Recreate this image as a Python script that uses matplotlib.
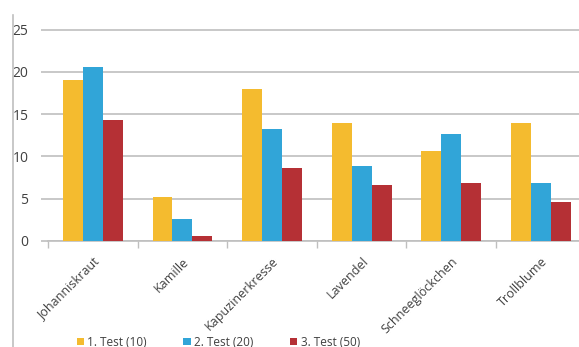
import numpy as np
import matplotlib.pyplot as plt
from matplotlib.lines import Line2D

plt.rcParams['font.family'] = ['Open Sans', 'DejaVu Sans']

kategorien = ['Johanniskraut', 'Kamille', 'Kapuzinerkresse', 'Lavendel',
              'Schneeglöckchen', 'Trollblume']
test1 = [19, 5.2, 18, 14, 10.6, 14]
test2 = [20.6, 2.6, 13.2, 8.9, 12.6, 6.9]
test3 = [14.3, 0.6, 8.6, 6.6, 6.9, 4.6]
serien = ['1. Test (10)', '2. Test (20)', '3. Test (50)']
farben = ['#F4BB2F', '#31A5D8', '#B53035']

fig = plt.figure(figsize=(5.79, 3.47), dpi=100)
ax = fig.add_axes([48/579, 106/347, 537.7/579, 214.0/347])

x = np.arange(len(kategorien))
w = 0.222
for i, (werte, name, f) in enumerate(zip([test1, test2, test3], serien, farben)):
    ax.bar(x + (i - 1)*w, werte, w, color=f, label=name, zorder=3)

ax.set_xlim(-0.5, len(kategorien) - 0.5)
ax.set_ylim(0, 25.3)
ax.set_yticks(np.arange(0, 26, 5))
ax.grid(axis='y', color='#BFBFBF', linewidth=1.2, zorder=0)
for s in ['top', 'right', 'left']:
    ax.spines[s].set_visible(False)
ax.spines['bottom'].set_color('#BFBFBF')
ax.spines['bottom'].set_linewidth(1.2)

ax.set_xticks(x)
ax.set_xticklabels(kategorien, rotation=45, ha='right', rotation_mode='anchor',
                   fontsize=9, color='#404040')
ax.set_xticks(np.arange(-0.5, len(kategorien)), minor=True)
ax.tick_params(axis='x', which='major', length=0, pad=10)
ax.tick_params(axis='x', which='minor', length=5, color='#BFBFBF', width=1)
ax.tick_params(axis='y', length=5, color='#BFBFBF', width=1.2,
               labelsize=10, labelcolor='#404040', pad=9)

fig.add_artist(Line2D([13/579, 13/579], [0, 332/347], color='#BFBFBF',
                      linewidth=1.2, transform=fig.transFigure))

fig.legend(loc='lower left', bbox_to_anchor=(66/579, -0.035), ncol=3,
           frameon=False, fontsize=8.5, handlelength=0.6, handleheight=0.6,
           handletextpad=0.3, columnspacing=3.1, labelcolor='#404040')

fig.savefig('out.png', dpi=100)
